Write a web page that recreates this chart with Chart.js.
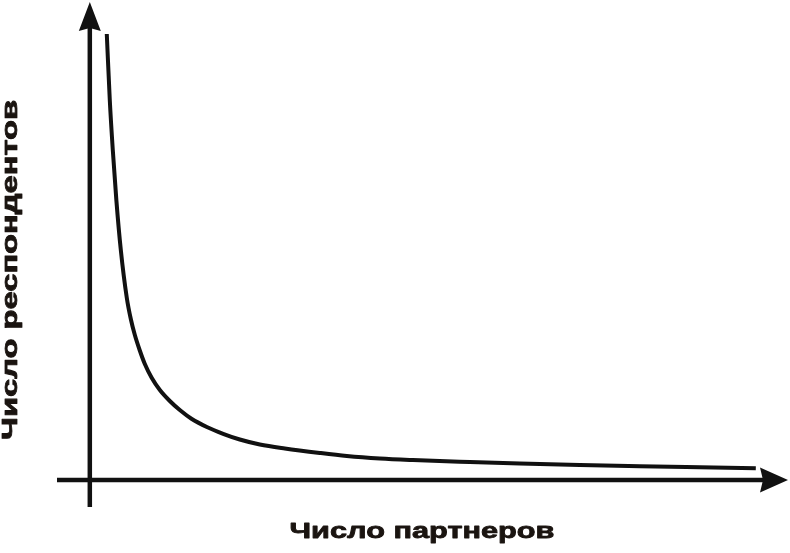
<!DOCTYPE html>
<html lang="ru">
<head>
    <meta charset="UTF-8">
    <title>Число респондентов / Число партнеров</title>
    <script src="https://cdn.jsdelivr.net/npm/chart.js"></script>
    <style>
        body { margin: 0; padding: 0; background: #ffffff; }
        .wrap { width: 790px; height: 553px; position: relative; }
    </style>
</head>
<body>
    <div class="wrap">
        <canvas id="curveChart" width="790" height="553"></canvas>
    </div>

    <script>
        // values (arbitrary units, origin at the axes crossing)
        const partners = [2.43, 2.86, 3.29, 3.80, 4.44, 5.30, 5.87, 6.45, 7.16, 7.88, 8.88, 10.03, 11.46, 12.89, 14.61,
                          16.76, 19.19, 21.48, 24.35, 27.93, 32.94, 36.81, 41.54, 46.26, 54.42, 61.59, 70.18, 78.77, 87.37, 95.39];
        const respondents = [93.31, 79.50, 69.04, 58.58, 48.12, 38.08, 33.68, 30.33, 27.09, 24.27, 21.34, 18.83, 16.53, 14.64, 12.76,
                             11.09, 9.62, 8.47, 7.43, 6.59, 5.65, 5.02, 4.50, 4.18, 3.77, 3.45, 3.14, 2.89, 2.66, 2.45];

        const xTitle = 'Число партнеров';
        const yTitle = 'Число респондентов';

        const ink = '#111111';

        // stretched heavy text, like the original's wide lettering
        function wideText(ctx, text, x, y, width, size) {
            ctx.font = 'bold ' + size + 'px "Liberation Sans", Arial, sans-serif';
            const w = ctx.measureText(text).width;
            ctx.save();
            ctx.translate(x, y);
            ctx.scale(width / w, 1);
            ctx.textAlign = 'center';
            ctx.textBaseline = 'alphabetic';
            ctx.lineWidth = 0.8;
            ctx.lineJoin = 'round';
            ctx.strokeText(text, 0, 0);
            ctx.fillText(text, 0, 0);
            ctx.restore();
        }

        const axesPlugin = {
            id: 'arrowAxes',
            beforeDatasetsDraw(chart) {
                const ctx = chart.ctx;
                const xs = chart.scales.x;
                const ys = chart.scales.y;
                const x0 = xs.getPixelForValue(0);
                const y0 = ys.getPixelForValue(0);

                ctx.save();
                ctx.strokeStyle = ink;
                ctx.fillStyle = ink;
                ctx.lineWidth = 4.5;

                // vertical axis
                ctx.beginPath();
                ctx.moveTo(x0, ys.bottom);
                ctx.lineTo(x0, ys.top + 22);
                ctx.stroke();
                ctx.beginPath();
                ctx.moveTo(x0, ys.top);
                ctx.lineTo(x0 - 11, ys.top + 29);
                ctx.lineTo(x0, ys.top + 26);
                ctx.lineTo(x0 + 11, ys.top + 29);
                ctx.closePath();
                ctx.fill();

                // horizontal axis
                ctx.beginPath();
                ctx.moveTo(xs.left, y0);
                ctx.lineTo(xs.right - 22, y0);
                ctx.stroke();
                ctx.beginPath();
                ctx.moveTo(xs.right, y0);
                ctx.lineTo(xs.right - 28, y0 - 12.5);
                ctx.lineTo(xs.right - 25, y0);
                ctx.lineTo(xs.right - 28, y0 + 12.5);
                ctx.closePath();
                ctx.fill();

                // axis titles
                ctx.fillStyle = '#1a1410';
                ctx.strokeStyle = '#1a1410';
                wideText(ctx, xTitle, 422, 538, 265, 22.5);

                ctx.save();
                ctx.translate(17, 270);
                ctx.rotate(-Math.PI / 2);
                wideText(ctx, yTitle, 0, 0, 340, 21.5);
                ctx.restore();

                ctx.restore();
            }
        };

        new Chart(document.getElementById('curveChart'), {
            type: 'line',
            data: {
                datasets: [{
                    data: partners.map((p, i) => ({ x: p, y: respondents[i] })),
                    borderColor: ink,
                    borderWidth: 4,
                    pointRadius: 0,
                    fill: false,
                    cubicInterpolationMode: 'monotone'
                }]
            },
            options: {
                responsive: false,
                animation: false,
                layout: { padding: { left: 57, right: 2, top: 2, bottom: 46 } },
                plugins: {
                    legend: { display: false },
                    tooltip: { enabled: false }
                },
                scales: {
                    x: { type: 'linear', min: -4.7, max: 100, display: false },
                    y: { type: 'linear', min: -5.65, max: 100, display: false }
                }
            },
            plugins: [axesPlugin]
        });
    </script>
</body>
</html>
